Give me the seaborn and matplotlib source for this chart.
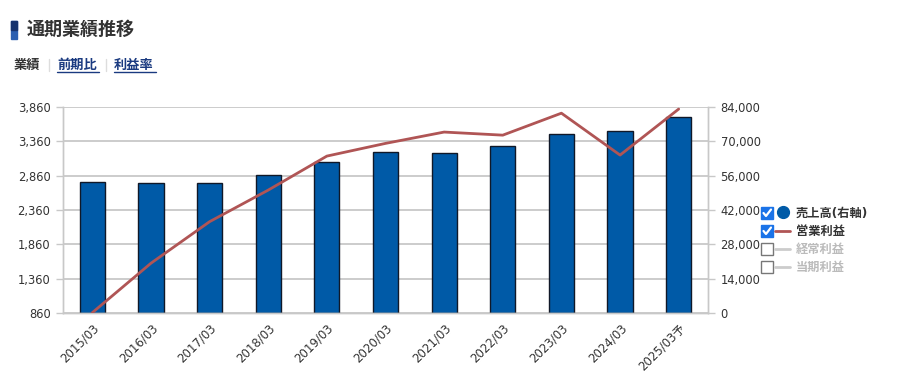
import numpy as np
import pandas as pd
import matplotlib
matplotlib.use("Agg")
import matplotlib.pyplot as plt
from matplotlib.patches import Rectangle
from matplotlib.lines import Line2D
import seaborn as sns

# data
years = ["2015/03", "2016/03", "2017/03", "2018/03", "2019/03", "2020/03",
         "2021/03", "2022/03", "2023/03", "2024/03", "2025/03予"]
sales = [53300, 52900, 52900, 56150, 61450, 65500, 65100, 68000, 72900, 74100, 79800]
op_profit = [865, 1585, 2190, 2650, 3145, 3330, 3495, 3450, 3770, 3160, 3830]
left_ticks = [860, 1360, 1860, 2360, 2860, 3360, 3860]
right_ticks = [0, 14000, 28000, 42000, 56000, 70000, 84000]
legend_items = ["売上高(右軸)", "営業利益", "経常利益", "当期利益"]

sns.set_style("white")
plt.rcParams["font.family"] = ["DejaVu Sans", "Noto Sans CJK JP"]

W, H = 901, 386
fig = plt.figure(figsize=(W / 100, H / 100), dpi=100)

def fx(x):
    return x / W

def fy(y):
    return 1 - y / H

ax = fig.add_axes([fx(63), fy(313), fx(708) - fx(63), fy(107) - fy(313)])
df = pd.DataFrame({"year": years, "sales": sales, "op": op_profit})

grid_c = "#c8c8c8"
sns.barplot(data=df, x="year", y="sales", color="#005aa7", saturation=1,
            edgecolor="#101828", linewidth=1, width=0.43, ax=ax, zorder=2)
ax.set_xlim(-0.5, len(years) - 0.5)
ax.set_xlabel("")
ax.set_ylabel("")
ax.grid(axis="y", color=grid_c, linewidth=1.3, zorder=0)
ax.set_axisbelow(True)

ax2 = ax.twinx()
sns.lineplot(x=np.arange(len(years)), y=df["op"], color="#b05555",
             linewidth=2, ax=ax2, zorder=3)
ax2.set_ylim(860, 3860)
ax2.set_yticks(left_ticks)
ax2.set_yticklabels([f"{v:,}" for v in left_ticks])
ax2.yaxis.tick_left()
ax2.set_ylabel("")

# sales axis on the right (after twinx, which resets it)
ax.set_ylim(0, 84000)
ax.set_yticks(right_ticks)
ax.set_yticklabels([f"{v:,}" for v in right_ticks])
ax.yaxis.tick_right()

for a in (ax, ax2):
    for side in ("left", "right", "bottom"):
        a.spines[side].set_color(grid_c)
        a.spines[side].set_linewidth(1)
    a.spines["top"].set_visible(False)
    a.tick_params(axis="y", length=5, width=1, color=grid_c,
                  labelsize=8.3, labelcolor="#333333", pad=4)

ax.set_xticks(np.arange(len(years)))
ax.set_xticklabels(years, rotation=45, ha="right", rotation_mode="anchor",
                   fontsize=8.5, color="#333333")
ax.tick_params(axis="x", which="major", length=0, pad=6)
ax.set_xticks(np.arange(-0.5, len(years), 1), minor=True)
ax.tick_params(axis="x", which="minor", direction="in", length=6,
               width=1, color=grid_c)

# header
fig.patches.append(Rectangle((fx(11), fy(39)), fx(6), fy(21) - fy(39),
                             transform=fig.transFigure, color="#2b5fb0"))
fig.patches.append(Rectangle((fx(11), fy(30)), fx(6), fy(21) - fy(30),
                             transform=fig.transFigure, color="#16336e"))
fig.text(fx(27), fy(30), "通期業績推移", fontsize=13, fontweight="bold",
         color="#333333", va="center", ha="left")
fig.text(fx(14), fy(65), "業績", fontsize=9.5, fontweight="bold",
         color="#333333", va="center")
fig.text(fx(57), fy(65), "前期比", fontsize=9.5, fontweight="bold",
         color="#1a3a80", va="center")
fig.text(fx(114), fy(65), "利益率", fontsize=9.5, fontweight="bold",
         color="#1a3a80", va="center")
for x0, x1 in [(57, 99), (114, 156)]:
    fig.lines.append(Line2D([fx(x0), fx(x1)], [fy(72), fy(72)],
                            transform=fig.transFigure, color="#1a3a80", lw=1))
for xs in (49, 106):
    fig.lines.append(Line2D([fx(xs), fx(xs)], [fy(59), fy(71)],
                            transform=fig.transFigure, color="#dddddd", lw=1))

# legend with checkboxes
rows = [213, 231, 249, 267]
for i, (yc, label) in enumerate(zip(rows, legend_items)):
    checked = i < 2
    box = Rectangle((fx(761), fy(yc + 6)), fx(12), fy(yc - 6) - fy(yc + 6),
                    transform=fig.transFigure,
                    facecolor="#1a73e8" if checked else "white",
                    edgecolor="#1a73e8" if checked else "#777777", lw=1)
    fig.patches.append(box)
    if checked:
        fig.lines.append(Line2D([fx(763.5), fx(766), fx(771)],
                                [fy(yc), fy(yc + 3), fy(yc - 3.5)],
                                transform=fig.transFigure, color="white", lw=1.6))
    if i == 0:
        fig.lines.append(Line2D([fx(783)], [fy(yc - 1)], marker="o",
                                markersize=8.5, color="#005aa7", lw=0,
                                transform=fig.transFigure))
    else:
        fig.lines.append(Line2D([fx(775), fx(790)], [fy(yc), fy(yc)],
                                transform=fig.transFigure,
                                color="#b05555" if checked else "#cccccc", lw=2))
    fig.text(fx(796), fy(yc), label, fontsize=8.8, fontweight="bold",
             color="#333333" if checked else "#bbbbbb", va="center", ha="left")

fig.savefig("out.png", dpi=100)
